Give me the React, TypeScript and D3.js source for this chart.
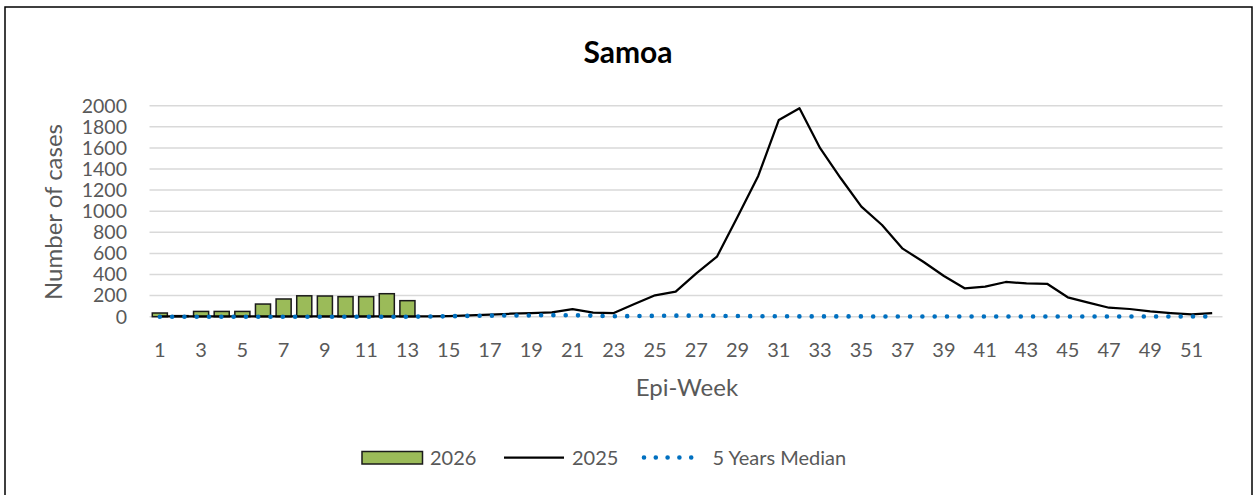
import React from 'react'
import * as d3 from 'd3'

const weeks = d3.range(1, 53)

// 2026 cases (weeks 1-13 reported so far)
const cases2026 = [35, 10, 50, 50, 50, 120, 168, 198, 196, 190, 190, 218, 152]

// 2025 cases, weeks 1-52
const cases2025 = [
  2, 2, 2, 2, 2, 2, 2, 2, 2, 2, 2, 2, 3, 4, 6, 12, 20, 28, 34, 42,
  72, 38, 35, 120, 203, 237, 411, 569, 948, 1334, 1865, 1976, 1597, 1312, 1043, 869, 645, 521, 386, 269,
  285, 329, 316, 312, 184, 133, 85, 73, 51, 35, 22, 35,
]

// 5 year median, weeks 1-52
const median5y = [
  0, 0, 0, 0, 0, 0, 0, 0, 0, 0, 0, 0, 0, 2, 4, 8, 10, 12, 12, 15,
  14, 10, 4, 6, 8, 10, 10, 8, 6, 5, 4, 3, 3, 3, 3, 2, 2, 2, 2, 2,
  2, 2, 2, 2, 2, 2, 2, 2, 2, 2, 2, 2,
]

const yTicks = d3.range(0, 2001, 200)
const xTickLabels = weeks.filter((w) => w % 2 === 1)

const FONT = 'Lato, "Open Sans", sans-serif'
const TEXT = '#595959'

export default function App() {
  const width = 1253
  const height = 495

  const x = d3.scaleBand<number>().domain(weeks).range([149.5, 1222.5]).paddingInner(0.27).paddingOuter(0.135)
  const y = d3.scaleLinear().domain([0, 2000]).range([316.7, 105.7])
  const cx = (w: number) => (x(w) ?? 0) + x.bandwidth() / 2

  const line = d3
    .line<number>()
    .x((_, i) => cx(weeks[i]))
    .y((d) => y(d))

  return (
    <svg width={width} height={height} style={{ position: 'absolute', left: 0, top: 0, background: '#fff' }}>
      <rect x={5} y={7} width={1247} height={495} fill="#fff" stroke="#000" strokeWidth={1.5} />

      <text x={628} y={63} textAnchor="middle" fontFamily={FONT} fontWeight="bold" fontSize={30} fill="#000">
        Samoa
      </text>

      {/* grid */}
      {yTicks.map((t) => (
        <line key={t} x1={149.5} x2={1222.5} y1={y(t)} y2={y(t)} stroke="#d9d9d9" strokeWidth={1.5} />
      ))}
      {yTicks.map((t) => (
        <text key={t} x={127} y={y(t)} dy="0.35em" textAnchor="end" fontFamily={FONT} fontSize={19.5} fill={TEXT}>
          {t}
        </text>
      ))}
      <text
        transform={`translate(62,212) rotate(-90)`}
        textAnchor="middle"
        fontFamily={FONT}
        fontSize={24}
        fill={TEXT}
      >
        Number of cases
      </text>

      {/* bars 2026 */}
      {cases2026.map((v, i) => (
        <rect
          key={i}
          x={x(weeks[i])}
          y={y(v)}
          width={x.bandwidth()}
          height={y(0) - y(v)}
          fill="#9bbb59"
          stroke="#1a1a1a"
          strokeWidth={1.5}
        />
      ))}

      <path d={line(cases2025) ?? ''} fill="none" stroke="#000" strokeWidth={2.25} strokeLinejoin="round" />
      <path
        d={line(median5y) ?? ''}
        fill="none"
        stroke="#0070c0"
        strokeWidth={4.6}
        strokeLinecap="round"
        strokeDasharray="0 12.3"
      />

      {xTickLabels.map((w) => (
        <text key={w} x={cx(w)} y={350} dy="0.35em" textAnchor="middle" fontFamily={FONT} fontSize={20} fill={TEXT}>
          {w}
        </text>
      ))}
      <text x={687} y={388} dy="0.35em" textAnchor="middle" fontFamily={FONT} fontSize={24} fill={TEXT}>
        Epi-Week
      </text>

      {/* legend */}
      <rect x={362} y={451.5} width={60.5} height={12.5} fill="#9bbb59" stroke="#1a1a1a" strokeWidth={1.5} />
      <text x={430} y={457.5} dy="0.35em" fontFamily={FONT} fontSize={20} fill={TEXT}>
        2026
      </text>
      <line x1={504} x2={564} y1={457.5} y2={457.5} stroke="#000" strokeWidth={2.25} />
      <text x={572} y={457.5} dy="0.35em" fontFamily={FONT} fontSize={20} fill={TEXT}>
        2025
      </text>
      <line
        x1={644}
        x2={703}
        y1={457.5}
        y2={457.5}
        stroke="#0070c0"
        strokeWidth={4.6}
        strokeLinecap="round"
        strokeDasharray="0 11.8"
      />
      <text x={712.5} y={457.5} dy="0.35em" fontFamily={FONT} fontSize={20} fill={TEXT}>
        5 Years Median
      </text>
    </svg>
  )
}
